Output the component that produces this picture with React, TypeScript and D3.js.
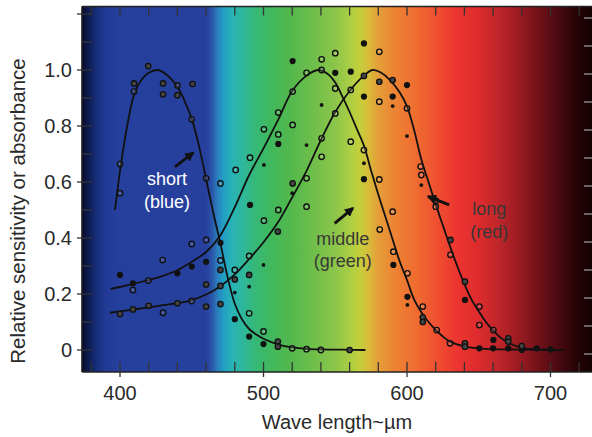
import React from "react";
import * as d3 from "d3";

// ---- data (wavelength nm, relative sensitivity) ----
const xTickLabels = [400, 500, 600, 700];
const yTickLabels = [0, 0.2, 0.4, 0.6, 0.8, 1.0];

const shortCurve: [number, number][] = [
  [396.5, 0.5], [400, 0.64], [405, 0.8], [410, 0.915], [415, 0.965], [420, 0.99], [426, 1.0],
  [432, 0.985], [440, 0.94], [445, 0.89], [450, 0.825], [455, 0.73], [460, 0.61], [465, 0.49],
  [470, 0.38], [475, 0.26], [480, 0.165], [485, 0.11], [490, 0.075], [495, 0.055], [500, 0.04],
  [510, 0.02], [520, 0.009], [530, 0.004], [540, 0.002], [555, 0.001], [571, 0],
];

const middleCurve: [number, number][] = [
  [393.5, 0.218], [400, 0.225], [410, 0.237], [420, 0.25], [430, 0.265], [440, 0.285], [450, 0.315],
  [460, 0.35], [470, 0.41], [480, 0.51], [490, 0.625], [500, 0.72], [510, 0.82], [520, 0.925],
  [530, 0.98], [538, 1.0], [545, 0.985], [550, 0.955], [555, 0.905], [560, 0.85], [565, 0.79],
  [570, 0.73], [575, 0.64], [580, 0.555], [585, 0.475], [590, 0.395], [595, 0.315], [600, 0.25],
  [605, 0.18], [610, 0.135], [615, 0.1], [620, 0.072], [625, 0.048], [630, 0.03], [640, 0.013],
  [650, 0.006], [660, 0.003], [680, 0.001], [709, 0],
];

const longCurve: [number, number][] = [
  [393, 0.133], [400, 0.138], [410, 0.145], [420, 0.152], [430, 0.16], [440, 0.167], [450, 0.178],
  [460, 0.198], [470, 0.228], [480, 0.27], [490, 0.325], [500, 0.385], [510, 0.455], [520, 0.545],
  [530, 0.64], [540, 0.75], [550, 0.85], [560, 0.925], [570, 0.98], [576, 1.0], [582, 0.99],
  [588, 0.965], [595, 0.92], [600, 0.87], [605, 0.785], [610, 0.68], [615, 0.6], [620, 0.52],
  [625, 0.445], [630, 0.37], [635, 0.3], [640, 0.235], [645, 0.18], [650, 0.138], [655, 0.1],
  [660, 0.07], [665, 0.045], [670, 0.028], [675, 0.016], [680, 0.008], [690, 0.003], [700, 0.001],
  [709, 0],
];

// o = open circle, h = ring with dark centre, f = filled, s = small dot
const samplePoints: [number, number, string][] = [
  [419.7, 1.014, "h"], [409.8, 0.952, "h"], [409.8, 0.923, "o"], [430, 0.952, "h"], [430, 0.913, "h"],
  [440, 0.945, "o"], [440, 0.91, "h"], [450.6, 0.95, "h"], [450, 0.824, "o"], [400, 0.664, "o"],
  [400, 0.56, "o"], [460, 0.613, "o"], [470, 0.595, "o"], [480.6, 0.643, "o"], [490.6, 0.687, "o"],
  [490.6, 0.518, "f"], [450, 0.379, "o"], [460, 0.393, "o"], [470, 0.383, "f"],
  [400, 0.268, "f"], [409, 0.238, "f"], [409, 0.214, "o"], [419.7, 0.248, "o"], [429.7, 0.321, "o"],
  [440, 0.274, "f"], [450, 0.298, "f"], [460, 0.315, "f"], [460, 0.234, "h"], [460, 0.155, "h"],
  [470, 0.32, "o"], [470, 0.286, "h"], [470, 0.229, "h"], [470, 0.164, "h"], [480, 0.286, "o"],
  [480, 0.252, "h"], [480, 0.205, "s"], [480, 0.11, "f"], [490, 0.336, "o"], [490, 0.268, "h"],
  [490, 0.226, "s"], [490, 0.131, "o"], [490, 0.048, "f"], [500, 0.304, "s"], [500, 0.066, "o"],
  [500, 0.021, "f"], [510, 0.03, "h"], [510, 0.012, "h"], [520, 0.006, "o"], [530, 0.003, "o"],
  [540, 0, "o"], [560, 0, "h"],
  [400, 0.129, "h"], [409, 0.145, "h"], [420, 0.158, "h"], [430, 0.133, "o"], [440, 0.167, "h"],
  [450, 0.175, "o"],
  [500.3, 0.788, "o"], [500.3, 0.661, "s"], [500.3, 0.462, "o"], [510.3, 0.848, "o"], [510.3, 0.77, "o"],
  [510.3, 0.736, "f"], [510.3, 0.5, "o"], [510, 0.423, "h"], [520.3, 1.032, "f"], [520.3, 0.923, "o"],
  [520.3, 0.804, "o"], [520.3, 0.595, "h"], [520, 0.56, "s"], [530, 0.99, "o"], [530, 0.732, "s"],
  [530, 0.613, "o"], [530, 0.512, "o"], [540.5, 1.038, "o"], [540.5, 1.0, "o"], [540.5, 0.875, "s"],
  [540.5, 0.756, "o"], [540.5, 0.69, "o"], [550, 1.06, "o"], [550, 0.99, "f"], [550, 0.934, "o"],
  [550, 0.845, "o"], [560.8, 0.994, "f"], [560.8, 0.929, "o"], [560.8, 0.744, "o"], [570, 1.095, "f"],
  [570, 0.979, "h"], [570, 0.905, "f"], [570, 0.714, "o"], [570, 0.667, "s"], [570, 0.61, "f"],
  [580.7, 1.065, "o"], [580.7, 0.958, "h"], [580.7, 0.887, "o"], [580.7, 0.609, "o"], [590, 0.964, "h"],
  [590, 0.905, "f"], [590, 0.871, "s"], [600, 0.946, "f"], [600, 0.863, "o"], [600, 0.764, "s"],
  [609.5, 0.655, "o"], [610, 0.625, "o"], [610, 0.589, "s"], [620, 0.533, "o"], [620, 0.512, "o"],
  [590, 0.494, "o"], [581, 0.43, "o"],
  [590.5, 0.351, "o"], [590.5, 0.304, "f"], [600.3, 0.274, "o"], [600.3, 0.19, "f"], [600.3, 0.161, "s"],
  [611, 0.155, "o"], [611, 0.117, "h"], [611, 0.1, "h"], [620.7, 0.071, "o"], [630, 0.024, "o"],
  [640.4, 0.024, "h"], [640.4, 0.012, "h"], [650.4, 0.006, "f"], [660, 0.006, "f"], [670.6, 0.006, "f"],
  [680, 0, "f"], [690.4, 0.006, "f"], [700, 0.002, "f"], [630.3, 0.393, "h"], [630.3, 0.34, "o"],
  [640.4, 0.244, "h"], [640.4, 0.179, "f"], [650.4, 0.155, "o"], [650.4, 0.089, "o"], [660.2, 0.071, "o"],
  [660.2, 0.036, "f"], [670.6, 0.042, "h"], [670.6, 0.03, "h"], [680, 0.014, "h"],
];

// spectrum background colour stops (wavelength nm, colour)
const spectrumStops: [number, string][] = [
  [373.5, "#050a25"], [377, "#0c1848"], [383, "#162c78"], [390, "#213a96"], [398, "#253f9c"],
  [460, "#27409e"], [464, "#2a55a8"], [468, "#2a7fbf"], [472, "#229ec4"], [478, "#28b3b5"],
  [486, "#2fb79a"], [494, "#35b878"], [505, "#40b85c"], [520, "#55b84c"], [535, "#6fbf4a"],
  [550, "#8cc54a"], [560, "#aace44"], [567, "#c4cf3c"], [573, "#d8bc3a"], [580, "#e49e38"],
  [590, "#ec8634"], [605, "#ef6e31"], [620, "#ef5130"], [635, "#ec3530"], [648, "#e02c2e"],
  [660, "#c8282b"], [675, "#a21d24"], [690, "#78121a"], [705, "#4a0a10"], [720, "#220306"],
  [730, "#120102"],
];

const W = 592;
const H = 437;
const FONT = "'Liberation Sans', Arial, Helvetica, sans-serif";

export default function App() {
  const x = d3.scaleLinear().domain([400, 700]).range([120, 550.5]);
  const y = d3.scaleLinear().domain([0, 1]).range([350, 70]);
  const left = x(373.5);
  const top = y(1.227);
  const bottom = y(-0.0786);
  const right = W + 5;

  const line = d3
    .line<[number, number]>()
    .x((d) => x(d[0]))
    .y((d) => y(d[1]))
    .curve(d3.curveCatmullRom.alpha(0.5));

  const minorX = d3.range(380, 740, 20);
  const minorY = d3.range(0, 13).map((i) => i / 10);

  const gx0 = x(373.5);
  const gx1 = x(730);

  const arrows = [
    { from: [438.3, 0.654], to: [450.9, 0.704] },
    { from: [549.6, 0.452], to: [562.2, 0.506] },
    { from: [629.4, 0.518], to: [614.8, 0.548] },
  ];

  const labels = [
    { t1: "short", t2: "(blue)", nm: 432.8, v1: 0.589, v2: 0.507, fill: "#ffffff" },
    { t1: "middle", t2: "(green)", nm: 555.2, v1: 0.375, v2: 0.295, fill: "#383838" },
    { t1: "long", t2: "(red)", nm: 657.4, v1: 0.482, v2: 0.4, fill: "#383838" },
  ];

  return (
    <svg
      width={W}
      height={H}
      style={{ position: "absolute", left: 0, top: 0, background: "#ffffff" }}
      fontFamily={FONT}
    >
      <defs>
        <linearGradient id="spec" gradientUnits="userSpaceOnUse" x1={gx0} x2={gx1} y1={0} y2={0}>
          {spectrumStops.map(([nm, c], i) => (
            <stop key={i} offset={(x(nm) - gx0) / (gx1 - gx0)} stopColor={c} />
          ))}
        </linearGradient>
        <marker id="ah" viewBox="0 0 10 10" refX="8" refY="5" markerWidth="3.2" markerHeight="3.2" orient="auto">
          <path d="M0,0 L10,5 L0,10 z" fill="#111" />
        </marker>
        <clipPath id="plot">
          <rect x={left} y={top} width={right - left} height={bottom - top} />
        </clipPath>
      </defs>

      <rect x={left} y={top} width={right - left} height={bottom - top} fill="url(#spec)" />

      {/* frame */}
      <line x1={left} x2={right} y1={top} y2={top} stroke="#222" strokeWidth={1.6} />
      <line x1={left} x2={right} y1={bottom} y2={bottom} stroke="#222" strokeWidth={1.6} />
      <line x1={left} x2={left} y1={top} y2={bottom} stroke="#222" strokeWidth={1.6} />

      {/* x ticks */}
      {minorX.map((t) => {
        const major = xTickLabels.includes(t);
        return (
          <g key={"xt" + t}>
            <line x1={x(t)} x2={x(t)} y1={bottom - 10} y2={bottom + (major ? 5 : 0)} stroke="#333" strokeWidth={1.3} />
            <line x1={x(t)} x2={x(t)} y1={top} y2={top + 9} stroke="#333" strokeWidth={1.3} />
          </g>
        );
      })}
      {/* y ticks */}
      {minorY.map((t, i) => (
        <g key={"yt" + i}>
          <line x1={left - (i % 2 === 0 ? 5 : 0)} x2={left + 10} y1={y(t)} y2={y(t)} stroke="#333" strokeWidth={1.3} />
          <line x1={W - 8} x2={W} y1={y(t) + 4} y2={y(t) + 4} stroke="#9a9a9a" strokeWidth={1.3} />
        </g>
      ))}

      {/* curves */}
      <g clipPath="url(#plot)" fill="none" stroke="#111" strokeWidth={1.8}>
        <path d={line(shortCurve) || ""} />
        <path d={line(middleCurve) || ""} />
        <path d={line(longCurve) || ""} />
      </g>

      {/* sample points */}
      <g>
        {samplePoints.map(([nm, v, k], i) => {
          const cx = x(nm);
          const cy = y(v);
          if (k === "f") return <circle key={i} cx={cx} cy={cy} r={3.1} fill="#111" />;
          if (k === "s") return <circle key={i} cx={cx} cy={cy} r={1.9} fill="#111" />;
          if (k === "h")
            return <circle key={i} cx={cx} cy={cy} r={2.7} fill="#444" stroke="#111" strokeWidth={1.3} />;
          return <circle key={i} cx={cx} cy={cy} r={2.7} fill="rgba(255,255,255,0.15)" stroke="#111" strokeWidth={1.4} />;
        })}
      </g>

      {/* arrows */}
      {arrows.map((a, i) => (
        <line
          key={"ar" + i}
          x1={x(a.from[0])}
          y1={y(a.from[1])}
          x2={x(a.to[0])}
          y2={y(a.to[1])}
          stroke="#111"
          strokeWidth={3}
          markerEnd="url(#ah)"
        />
      ))}

      {/* labels */}
      {labels.map((l, i) => (
        <g key={"lb" + i} fill={l.fill} fontSize={18} textAnchor="middle">
          <text x={x(l.nm)} y={y(l.v1)}>{l.t1}</text>
          <text x={x(l.nm)} y={y(l.v2)}>{l.t2}</text>
        </g>
      ))}

      {/* tick labels */}
      {yTickLabels.map((t) => (
        <text key={"yl" + t} x={72} y={y(t)} dy="0.36em" textAnchor="end" fontSize={20} fill="#2a2a2a">
          {t === 0 ? "0" : t.toFixed(1)}
        </text>
      ))}
      {xTickLabels.map((t) => (
        <text key={"xl" + t} x={x(t)} y={400} textAnchor="middle" fontSize={20} fill="#2a2a2a">
          {t}
        </text>
      ))}

      {/* axis titles */}
      <text x={337} y={429} textAnchor="middle" fontSize={20} fill="#2a2a2a">
        Wave length~µm
      </text>
      <text
        transform={`translate(25, 211) rotate(-90)`}
        textAnchor="middle"
        fontSize={20.5}
        fill="#2a2a2a"
      >
        Relative sensitivity or absorbance
      </text>
    </svg>
  );
}
